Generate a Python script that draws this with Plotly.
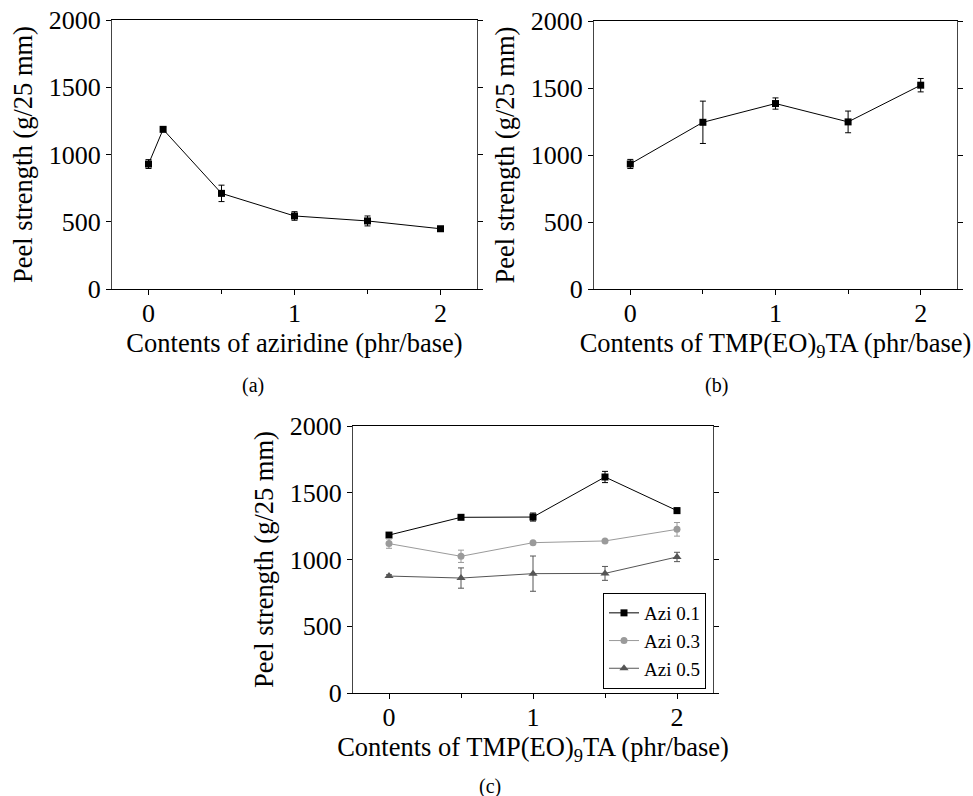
import plotly.graph_objects as go

# ---- data ----
a_x = [0, 0.1, 0.5, 1, 1.5, 2]
a_y = [929, 1187, 711, 543, 506, 448]
a_err = [33, 15, 61, 32, 37, 10]

b_x = [0, 0.5, 1, 1.5, 2]
b_y = [933, 1244, 1384, 1247, 1521]
b_err = [34, 158, 42, 81, 50]

c_x = [0, 0.5, 1, 1.5, 2]
c_names = ["Azi 0.1", "Azi 0.3", "Azi 0.5"]
c_azi01 = [1183, 1316, 1318, 1618, 1366]
c_azi01_err = [10, 8, 30, 42, 19]
c_azi03 = [1119, 1024, 1126, 1139, 1226]
c_azi03_err = [35, 46, 8, 10, 51]
c_azi05 = [876, 861, 894, 896, 1019]
c_azi05_err = [10, 76, 132, 52, 35]

x_tickvals = [0, 1, 2]
y_tickvals = [0, 500, 1000, 1500, 2000]

FONT = "Liberation Serif"
W, H = 973, 796

fig = go.Figure()

def add(xs, ys, errs, color, symbol, size, xa, ya, name=None, show=False):
    fig.add_trace(go.Scatter(
        x=xs, y=ys, mode="lines+markers", name=name, showlegend=show,
        line=dict(color=color, width=1),
        marker=dict(color=color, symbol=symbol, size=size),
        error_y=dict(type="data", array=errs, visible=True, color=color,
                     thickness=1, width=3),
        xaxis=xa, yaxis=ya,
    ))

add(a_x, a_y, a_err, "black", "square", 7, "x", "y")
add(b_x, b_y, b_err, "black", "square", 7, "x2", "y2")
add(c_x, c_azi01, c_azi01_err, "black", "square", 7, "x3", "y3", c_names[0], True)
add(c_x, c_azi03, c_azi03_err, "#9a9a9a", "circle", 7, "x3", "y3", c_names[1], True)
add(c_x, c_azi05, c_azi05_err, "#555555", "triangle-up", 8, "x3", "y3", c_names[2], True)

def px(v):
    return v / W

def py(v):
    return 1 - v / H

panels = {
    "": dict(xd=[px(112), px(477)], yd=[py(289), py(20)],
             title="Contents of aziridine (phr/base)"),
    "2": dict(xd=[px(594), px(957)], yd=[py(289), py(21)],
              title="Contents of TMP(EO)<sub>9</sub>TA (phr/base)"),
    "3": dict(xd=[px(353), px(713)], yd=[py(693), py(426)],
              title="Contents of TMP(EO)<sub>9</sub>TA (phr/base)"),
}

axes = {}
for k, p in panels.items():
    axes["xaxis" + k] = dict(
        domain=p["xd"], anchor="y" + k, range=[-0.25, 2.25],
        automargin=False,
        tickvals=x_tickvals,
        ticks="outside", ticklen=5, tickcolor="black",
        ticklabelstandoff=-4,
        minor=dict(tick0=0, dtick=0.5, ticks="outside", ticklen=4,
                   tickcolor="black", showgrid=False),
        showline=True, linecolor="black", linewidth=1, mirror=True,
        showgrid=False, zeroline=False,
        tickfont=dict(family=FONT, size=26, color="black"),
        title=dict(text=p["title"], font=dict(family=FONT, size=26.5, color="black"),
                   standoff=0),
    )
    axes["yaxis" + k] = dict(
        domain=p["yd"], anchor="x" + k, range=[0, 2000],
        automargin=False,
        tickvals=y_tickvals,
        ticks="outside", ticklen=5, tickcolor="black",
        showline=True, linecolor="#444444", linewidth=1, mirror="ticks",
        showgrid=False, zeroline=False,
        tickfont=dict(family=FONT, size=26, color="black"),
        title=dict(text="Peel strength (g/25 mm)",
                   font=dict(family=FONT, size=26.5, color="black"), standoff=8),
    )

fig.update_layout(
    template="none",
    width=W, height=H,
    margin=dict(l=0, r=0, t=0, b=0),
    paper_bgcolor="white", plot_bgcolor="white",
    font=dict(family=FONT, color="black"),
    legend=dict(x=px(706), y=py(689), xanchor="right", yanchor="bottom",
                bordercolor="black", borderwidth=1, bgcolor="white",
                font=dict(family=FONT, size=19, color="black"),
                tracegroupgap=0, itemwidth=30),
    annotations=[
        dict(text="(a)", x=px(240), y=py(385), xref="paper", yref="paper",
             yanchor="middle", showarrow=False,
             font=dict(family=FONT, size=20, color="black")),
        dict(text="(b)", x=px(730), y=py(385), xref="paper", yref="paper",
             yanchor="middle", showarrow=False,
             font=dict(family=FONT, size=20, color="black")),
        dict(text="(c)", x=px(490), y=py(786), xref="paper", yref="paper",
             yanchor="middle", showarrow=False,
             font=dict(family=FONT, size=20, color="black")),
    ],
    **axes,
)

fig.write_html("out.html")
